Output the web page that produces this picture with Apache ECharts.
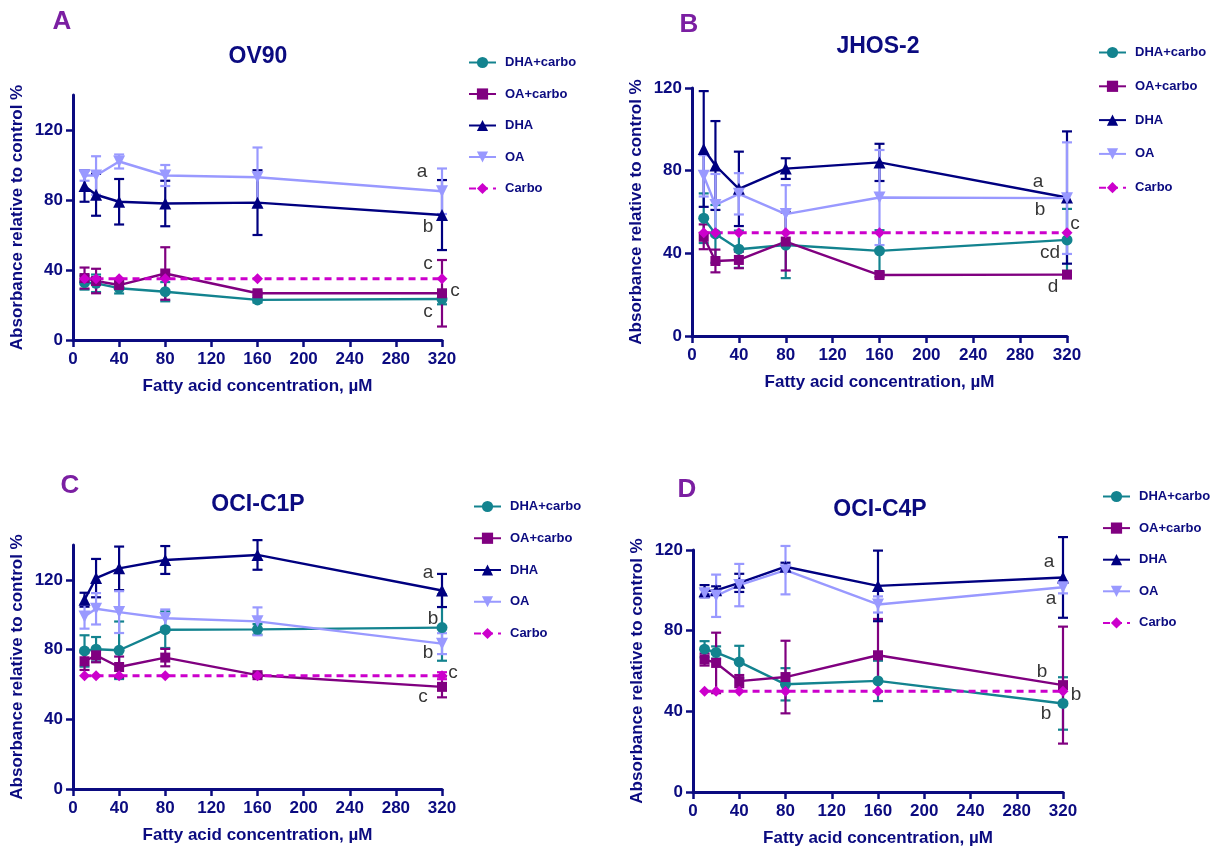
<!DOCTYPE html>
<html>
<head>
<meta charset="utf-8">
<script src="https://cdn.jsdelivr.net/npm/echarts@6/dist/echarts.min.js"></script>
<style>
html,body{margin:0;padding:0;background:#fff;}
#chart{width:1220px;height:853px;}
</style>
</head>
<body>
<div id="chart"></div>
<script>
// ---------- DATA ----------
const xValues = [10, 20, 40, 80, 160, 320];
const xTicks = [0, 40, 80, 120, 160, 200, 240, 280, 320];
const yTicks = [0, 40, 80, 120];
const groupNames = ['DHA+carbo', 'OA+carbo', 'DHA', 'OA', 'Carbo'];
const panelTitles = ['OV90', 'JHOS-2', 'OCI-C1P', 'OCI-C4P'];
const panelLetters = ['A', 'B', 'C', 'D'];
const xAxisTitle = 'Fatty acid concentration, µM';
const yAxisTitle = 'Absorbance relative to control %';

// Panel A: OV90
const ov90_dhaCarbo    = [32.8, 32.4, 29.6, 27.6, 22.9, 23.4];
const ov90_dhaCarbo_sd = [4, 5, 3, 5.5, 1.5, 3];
const ov90_oaCarbo     = [35.4, 33.7, 31.4, 38, 26.7, 26.7];
const ov90_oaCarbo_sd  = [6, 7, 2, 15, 1, 19];
const ov90_dha         = [88, 83, 79, 78, 78.5, 71.4];
const ov90_dha_sd      = [9, 12, 13, 13, 18.5, 20];
const ov90_oa          = [94, 94, 102, 94, 93, 85];
const ov90_oa_sd       = [3, 11, 4, 6, 17, 13];
const ov90_carbo       = [35, 35, 35, 35, 35, 35];
const ov90_carbo_sd    = [0, 0, 0, 0, 0, 0];
const ov90_letters     = ['c', 'c', 'b', 'a', 'c'];

// Panel B: JHOS-2
const jhos2_dhaCarbo    = [57, 49.4, 42, 44, 41.2, 46.5];
const jhos2_dhaCarbo_sd = [12, 14, 9, 16, 10, 15];
const jhos2_oaCarbo     = [48, 36.3, 36.8, 45.7, 29.5, 29.7];
const jhos2_oaCarbo_sd  = [6, 5.5, 4, 14, 1, 1];
const jhos2_dha         = [90.5, 82.5, 71.2, 81, 84, 67];
const jhos2_dha_sd      = [28, 21.5, 18, 5, 9, 32];
const jhos2_oa          = [77.5, 63.4, 68.8, 59, 67, 66.7];
const jhos2_oa_sd       = [10, 15, 10, 14, 23, 27];
const jhos2_carbo       = [50, 50, 50, 50, 50, 50];
const jhos2_carbo_sd    = [0, 0, 0, 0, 0, 0];
const jhos2_letters     = ['cd', 'd', 'a', 'b', 'c'];

// Panel C: OCI-C1P
const c1p_dhaCarbo    = [79.2, 80.2, 79.6, 91.4, 91.6, 92.6];
const c1p_dhaCarbo_sd = [9, 7, 16.5, 10.5, 3, 19];
const c1p_oaCarbo     = [73.3, 76.7, 70, 75.4, 65.3, 58.6];
const c1p_oaCarbo_sd  = [5, 4, 6, 5, 1, 6];
const c1p_dha         = [108.6, 121, 126.6, 131.4, 134.3, 113.9];
const c1p_dha_sd      = [4, 11, 12.5, 8, 8.5, 9.5];
const c1p_oa          = [99, 103.4, 101.5, 98, 96.2, 83.4];
const c1p_oa_sd       = [7, 9, 12, 5, 8, 6];
const c1p_carbo       = [65, 65, 65, 65, 65, 65];
const c1p_carbo_sd    = [0, 0, 0, 0, 0, 2];
const c1p_letters     = ['b', 'c', 'a', 'b', 'c'];

// Panel D: OCI-C4P
const c4p_dhaCarbo    = [70.8, 69.2, 64.5, 53.4, 55.1, 43.9];
const c4p_dhaCarbo_sd = [4, 3, 8, 8, 10, 13];
const c4p_oaCarbo     = [65.7, 64, 55, 57, 67.8, 53];
const c4p_oaCarbo_sd  = [3, 15, 3, 18, 18, 29];
const c4p_dha         = [99.6, 100, 103.7, 111.7, 102.2, 106.4];
const c4p_dha_sd      = [3, 2, 4.5, 2, 17.5, 20];
const c4p_oa          = [98.5, 97.3, 102.6, 110, 93, 101.5];
const c4p_oa_sd       = [2, 10.5, 10.5, 12, 4, 3];
const c4p_carbo       = [50, 50, 50, 50, 50, 50];
const c4p_carbo_sd    = [0, 0, 0, 0, 0, 0];
const c4p_letters     = ['b', 'b', 'a', 'a', 'b'];

const panelMeans = [
  [ov90_dhaCarbo, ov90_oaCarbo, ov90_dha, ov90_oa, ov90_carbo],
  [jhos2_dhaCarbo, jhos2_oaCarbo, jhos2_dha, jhos2_oa, jhos2_carbo],
  [c1p_dhaCarbo, c1p_oaCarbo, c1p_dha, c1p_oa, c1p_carbo],
  [c4p_dhaCarbo, c4p_oaCarbo, c4p_dha, c4p_oa, c4p_carbo]
];
const panelSds = [
  [ov90_dhaCarbo_sd, ov90_oaCarbo_sd, ov90_dha_sd, ov90_oa_sd, ov90_carbo_sd],
  [jhos2_dhaCarbo_sd, jhos2_oaCarbo_sd, jhos2_dha_sd, jhos2_oa_sd, jhos2_carbo_sd],
  [c1p_dhaCarbo_sd, c1p_oaCarbo_sd, c1p_dha_sd, c1p_oa_sd, c1p_carbo_sd],
  [c4p_dhaCarbo_sd, c4p_oaCarbo_sd, c4p_dha_sd, c4p_oa_sd, c4p_carbo_sd]
];
const panelLetterSets = [ov90_letters, jhos2_letters, c1p_letters, c4p_letters];
const panelYMax = [140, 120, 140, 120];

// ---------- STYLE / LAYOUT ----------
const NAVY = '#0b0b80';
const FONT = '"Liberation Sans", Arial, Helvetica, sans-serif';
const groupStyles = [
  { color: '#13838f', symbol: 'circle', size: 11, rotate: 0, dash: 'solid' },
  { color: '#800080', symbol: 'rect', size: 10, rotate: 0, dash: 'solid' },
  { color: '#000080', symbol: 'triangle', size: 12, rotate: 0, dash: 'solid' },
  { color: '#9999ff', symbol: 'triangle', size: 12, rotate: 180, dash: 'solid' },
  { color: '#cc00cc', symbol: 'diamond', size: 11, rotate: 0, dash: [7, 5] }
];
const grids = [
  { left: 73, top: 95, width: 369, height: 245 },
  { left: 692, top: 88, width: 375, height: 248 },
  { left: 73, top: 545, width: 369, height: 244 },
  { left: 693, top: 550, width: 370, height: 242 }
];
const titlePos = [[258, 57], [878, 47], [258, 505], [880, 510]];
const letterPos = [[62, 22], [689, 25], [70, 486], [687, 490]];
const legendPos = [
  { left: 463, top: 51, gap: 18.5 },
  { left: 1093, top: 41, gap: 20.8 },
  { left: 468, top: 495, gap: 18.75 },
  { left: 1097, top: 485, gap: 18.6 }
];
// letter label offsets (px) per panel, in group order
const letterOffsets = [
  [[-14, 13], [13, -3], [-14, 12], [-20, -19], [-14, -15]],
  [[-17, 13], [-14, 12], [-29, -16], [-27, 12], [8, -9]],
  [[-9, -9], [-19, 10], [-14, -18], [-14, 9], [11, -3]],
  [[-17, 10], [-21, -13], [-14, -16], [-12, 11], [13, 4]]
];

// ---------- BUILD ----------
const chart = echarts.init(document.getElementById('chart'));
const gridOpt = [], xAxes = [], yAxes = [], series = [], legends = [], graphics = [];

function errorRender(color) {
  return function (params, api) {
    const x = api.value(0), y = api.value(1), e = api.value(2);
    if (!e) return null;
    const top = api.coord([x, y + e]);
    const bot = api.coord([x, y - e]);
    const hw = 5;
    const st = { stroke: color, lineWidth: 2.2 };
    return {
      type: 'group',
      children: [
        { type: 'line', shape: { x1: top[0], y1: top[1], x2: bot[0], y2: bot[1] }, style: st },
        { type: 'line', shape: { x1: top[0] - hw, y1: top[1], x2: top[0] + hw, y2: top[1] }, style: st },
        { type: 'line', shape: { x1: bot[0] - hw, y1: bot[1], x2: bot[0] + hw, y2: bot[1] }, style: st }
      ]
    };
  };
}

for (let p = 0; p < 4; p++) {
  gridOpt.push(Object.assign({ containLabel: false, outerBoundsMode: 'none' }, grids[p]));
  xAxes.push({
    type: 'value', gridIndex: p, min: 0, max: 320, interval: 40,
    splitLine: { show: false },
    axisLine: { lineStyle: { color: NAVY, width: 3 } },
    axisTick: { show: true, length: 7, lineStyle: { color: NAVY, width: 2.5 }, customValues: xTicks },
    axisLabel: { color: NAVY, fontSize: 17, fontWeight: 'bold', fontFamily: FONT, margin: 11, customValues: xTicks },
    name: xAxisTitle, nameLocation: 'middle', nameGap: 38,
    nameTextStyle: { color: NAVY, fontSize: 17, fontWeight: 'bold', fontFamily: FONT }
  });
  yAxes.push({
    type: 'value', gridIndex: p, min: 0, max: panelYMax[p], interval: 40,
    splitLine: { show: false },
    axisLine: { show: true, lineStyle: { color: NAVY, width: 3 } },
    axisTick: { show: true, length: 7, lineStyle: { color: NAVY, width: 2.5 }, customValues: yTicks },
    axisLabel: { color: NAVY, fontSize: 17, fontWeight: 'bold', fontFamily: FONT, margin: 10, customValues: yTicks },
    name: yAxisTitle, nameLocation: 'middle', nameGap: 47,
    nameTextStyle: { color: NAVY, fontSize: 17, fontWeight: 'bold', fontFamily: FONT }
  });

  // error bars
  for (let g = 0; g < groupNames.length; g++) {
    const st = groupStyles[g];
    series.push({
      type: 'custom', xAxisIndex: p, yAxisIndex: p, z: 1, silent: true,
      renderItem: errorRender(st.color),
      data: xValues.map((x, i) => [x, panelMeans[p][g][i], panelSds[p][g][i]]),
      clip: false
    });
  }
  // lines
  for (let g = 0; g < groupNames.length; g++) {
    const st = groupStyles[g];
    series.push({
      type: 'line', name: groupNames[g], xAxisIndex: p, yAxisIndex: p, z: 3,
      symbol: st.symbol, symbolSize: st.size, symbolRotate: st.rotate,
      showAllSymbol: true,
      lineStyle: { color: st.color, width: st.dash === 'solid' ? 2.4 : 3, type: st.dash },
      itemStyle: { color: st.color },
      data: xValues.map((x, i) => [x, panelMeans[p][g][i]]),
      animation: false
    });
  }
  // significance letters
  const last = xValues.length - 1;
  series.push({
    type: 'scatter', xAxisIndex: p, yAxisIndex: p, z: 5, silent: true,
    symbolSize: 0,
    data: groupNames.map((n, g) => ({
      value: [xValues[last], panelMeans[p][g][last]],
      label: { offset: letterOffsets[p][g], formatter: panelLetterSets[p][g] }
    })),
    label: { show: true, position: 'inside', color: '#000', fontSize: 19, fontFamily: FONT },
    animation: false
  });

  legends.push({
    orient: 'vertical', left: legendPos[p].left, top: legendPos[p].top,
    itemGap: legendPos[p].gap, itemWidth: 27, itemHeight: 14,
    selectedMode: false,
    data: groupNames,
    textStyle: { color: NAVY, fontSize: 13, fontWeight: 'bold', fontFamily: FONT, padding: [0, 0, 0, 4] }
  });

  graphics.push({
    type: 'text', x: titlePos[p][0], y: titlePos[p][1],
    style: { text: panelTitles[p], font: 'bold 23px ' + FONT, fill: NAVY, align: 'center', verticalAlign: 'middle' }
  });
  graphics.push({
    type: 'text', x: letterPos[p][0], y: letterPos[p][1],
    style: { text: panelLetters[p], font: 'bold 26px ' + FONT, fill: '#7b1fa2', align: 'center', verticalAlign: 'middle' }
  });
}

chart.setOption({
  animation: false,
  backgroundColor: '#ffffff',
  grid: gridOpt,
  xAxis: xAxes,
  yAxis: yAxes,
  legend: legends,
  series: series,
  graphic: graphics
});
</script>
</body>
</html>
